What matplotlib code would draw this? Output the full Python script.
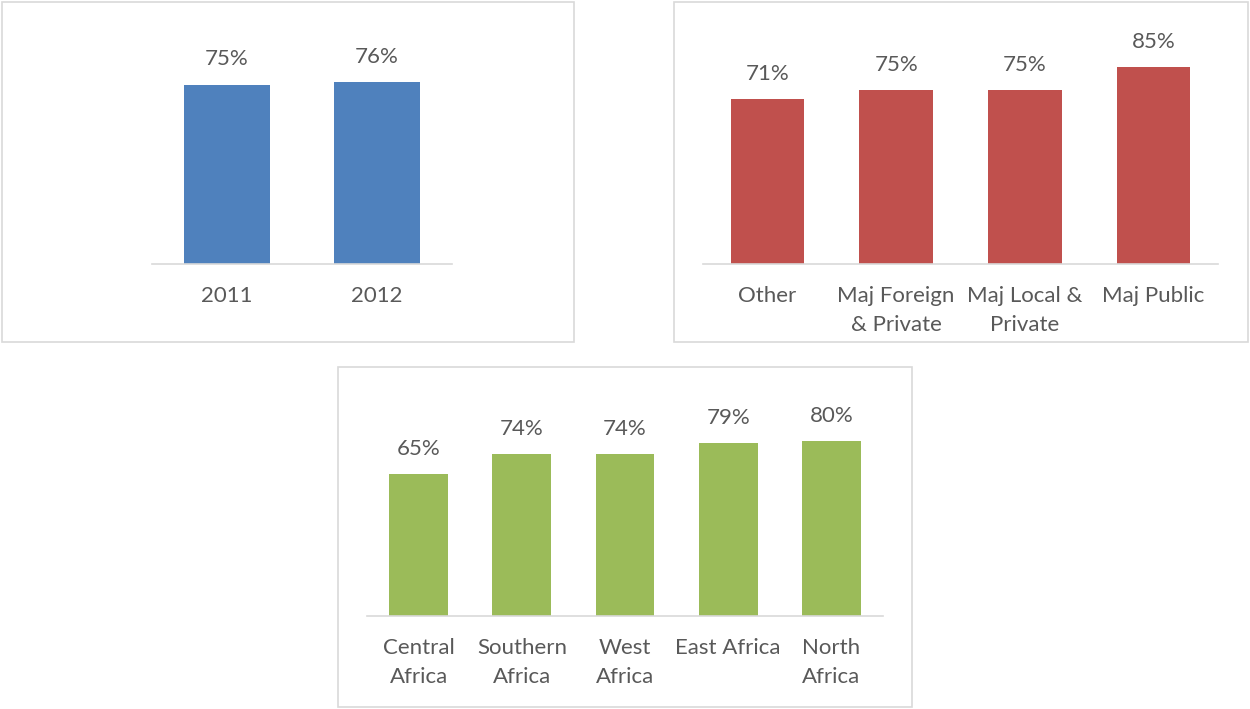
import matplotlib
matplotlib.use('Agg')
import matplotlib.pyplot as plt
from matplotlib.patches import Rectangle

plt.rcParams['font.family'] = ['Lato', 'DejaVu Sans']

# data
years = ['2011', '2012']
years_vals = [0.75, 0.76]

owner_cats = ['Other', 'Maj Foreign\n& Private', 'Maj Local &\nPrivate', 'Maj Public']
owner_vals = [0.71, 0.75, 0.75, 0.85]

region_cats = ['Central\nAfrica', 'Southern\nAfrica', 'West\nAfrica', 'East Africa', 'North\nAfrica']
region_vals = [0.65, 0.74, 0.74, 0.79, 0.80]

W, H = 1250, 709
TEXT = '#595959'
GRID = '#d9d9d9'

fig = plt.figure(figsize=(W / 100, H / 100), dpi=100)


def box(x0, y0, x1, y1):
    """panel border, given in pixel coords (top-left origin)"""
    fig.patches.append(Rectangle((x0 / W, 1 - y1 / H), (x1 - x0) / W, (y1 - y0) / H,
                                 transform=fig.transFigure, fill=False,
                                 edgecolor=GRID, linewidth=1.2))


def panel(left, base, width, height, cats, vals, color):
    ax = fig.add_axes([left / W, 1 - base / H, width / W, height / H])
    x = range(len(cats))
    bars = ax.bar(x, vals, width=0.57, color=color)
    ax.bar_label(bars, labels=['%d%%' % round(v * 100) for v in vals],
                 padding=11, fontsize=16, color=TEXT)
    ax.set_xlim(-0.5, len(cats) - 0.5)
    ax.set_ylim(0, 1)
    ax.set_xticks(list(x))
    ax.set_xticklabels(cats, fontsize=16, color=TEXT, linespacing=1.55)
    ax.tick_params(axis='x', length=0, pad=16)
    ax.set_yticks([])
    for s in ['top', 'left', 'right']:
        ax.spines[s].set_visible(False)
    ax.spines['bottom'].set_color(GRID)
    ax.spines['bottom'].set_linewidth(1.2)
    ax.patch.set_visible(False)
    return ax


box(2, 2, 574, 342)
box(674, 2, 1248, 342)
box(338, 367, 912, 707)

panel(152, 264, 300, 239, years, years_vals, '#4f81bd')
panel(703, 264, 515, 232, owner_cats, owner_vals, '#c0504d')
panel(367, 616, 516, 218.5, region_cats, region_vals, '#9bbb59')

fig.savefig('out.png', dpi=100)
